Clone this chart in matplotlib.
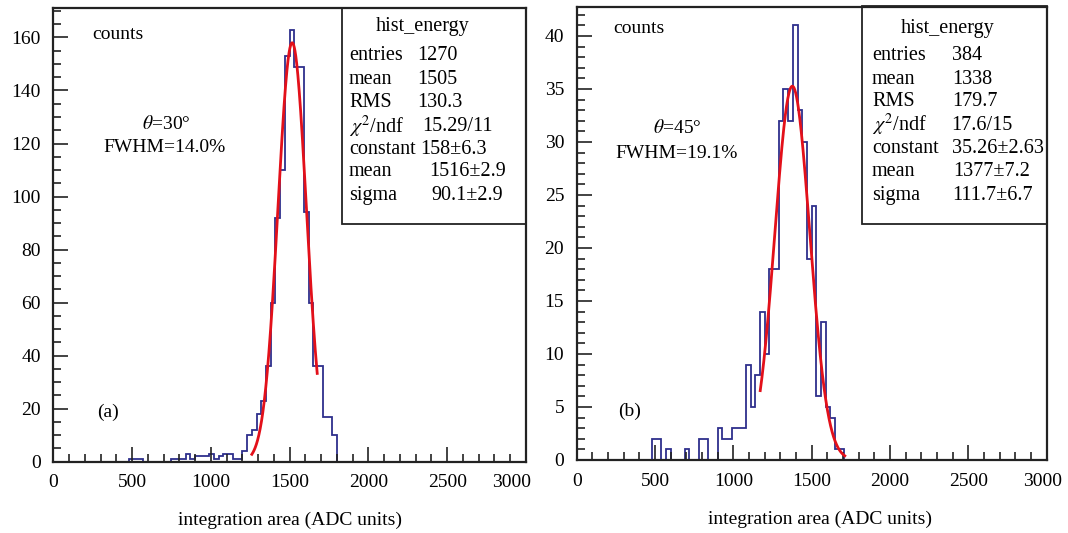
import numpy as np
import matplotlib
matplotlib.use('Agg')
import matplotlib.pyplot as plt
import matplotlib.transforms as mtransforms
from matplotlib.ticker import MultipleLocator
from matplotlib.patches import Rectangle

plt.rcParams['font.family'] = ['Liberation Serif', 'DejaVu Serif']
plt.rcParams['mathtext.fontset'] = 'stix'

# ---------------- data ----------------
BIN_WIDTH = 30
# panel (a): theta = 30 deg
a_first_edge = 480
a_counts = [1, 1, 1, 0, 0, 0, 0, 0, 0, 1, 1, 1, 3, 1, 2, 2, 2, 3, 1, 2, 3, 3, 1, 1,
            4, 10, 12, 18, 23, 36, 60, 92, 110, 153, 163, 149, 149, 94, 60, 36, 36, 17, 17, 10]
a_fit = dict(constant=158.0, mean=1516.0, sigma=90.1, lo=1260, hi=1675)
a_stats_labels = ['entries', 'mean', 'RMS', r'$\chi^2$/ndf', 'constant', 'mean', 'sigma']
a_stats_values = ['1270', '1505', '130.3', '15.29/11', '158\u00b16.3', '1516\u00b12.9', '90.1\u00b12.9']
a_angle = r'$\theta$=30°'
a_fwhm = 'FWHM=14.0%'
a_tag = '(a)'

# panel (b): theta = 45 deg
b_first_edge = 480
b_counts = [2, 2, 0, 1, 0, 0, 0, 1, 0, 0, 2, 2, 0, 0, 3, 2, 2, 3, 3, 3,
            9, 5, 8, 14, 10, 18, 18, 32, 35, 32, 41, 33, 30, 19, 24, 6, 13, 5, 4, 1, 1]
b_fit = dict(constant=35.26, mean=1377.0, sigma=111.7, lo=1172, hi=1712)
b_stats_labels = ['entries', 'mean', 'RMS', r'$\chi^2$/ndf', 'constant', 'mean', 'sigma']
b_stats_values = ['384', '1338', '179.7', '17.6/15', '35.26\u00b12.63', '1377\u00b17.2', '111.7\u00b16.7']
b_angle = r'$\theta$=45°'
b_fwhm = 'FWHM=19.1%'
b_tag = '(b)'

x_ticks = [0, 500, 1000, 1500, 2000, 2500, 3000]
x_label = 'integration area (ADC units)'

# ---------------- layout ----------------
W, H = 1068, 533
fig = plt.figure(figsize=(W / 100, H / 100), dpi=100)


def fx(x):
    return x / W


def fy(y):
    return 1 - y / H


HIST_COLOR = '#2e2f8c'
FIT_COLOR = '#e3101a'
FRAME_COLOR = '#222222'
FS = 14
FS_STATS = 14.5


def make_panel(rect, counts, first_edge, fit, ymax, ymajor, yminor,
               labels, values, val_x, lab_x, row_y, title_xy, box, counts_xy,
               angle_xy, fwhm_xy, tag_xy, angle, fwhm, tag, xlabel_xy, last_shift):
    ax = fig.add_axes(rect)
    edges = first_edge + BIN_WIDTH * np.arange(len(counts) + 1)
    ax.stairs(counts, edges, color=HIST_COLOR, lw=1.3, baseline=0)
    xf = np.linspace(fit['lo'], fit['hi'], 400)
    yf = fit['constant'] * np.exp(-0.5 * ((xf - fit['mean']) / fit['sigma']) ** 2)
    ax.plot(xf, yf, color=FIT_COLOR, lw=2.0)
    ax.set_xlim(0, 3000)
    ax.set_ylim(0, ymax)
    ax.set_xticks(x_ticks)
    ax.set_xticklabels([str(t) for t in x_ticks])
    ax.xaxis.set_minor_locator(MultipleLocator(100))
    ax.yaxis.set_major_locator(MultipleLocator(ymajor))
    ax.yaxis.set_minor_locator(MultipleLocator(yminor))
    ax.tick_params(which='both', direction='in', top=False, right=False,
                   color=FRAME_COLOR, labelsize=FS, width=1.2)
    ax.tick_params(which='major', length=10.5)
    ax.tick_params(which='minor', length=6)
    ax.tick_params(axis='y', pad=9)
    ax.tick_params(axis='x', pad=9)
    for s in ax.spines.values():
        s.set_color(FRAME_COLOR)
        s.set_linewidth(1.6)
    last = ax.get_xticklabels()[-1]
    last.set_transform(last.get_transform() +
                       mtransforms.ScaledTranslation(-last_shift / 100, 0, fig.dpi_scale_trans))
    # stats box
    x0, y0, x1, y1 = box
    fig.patches.append(Rectangle((fx(x0), fy(y1)), fx(x1) - fx(x0), fy(y0) - fy(y1),
                                 transform=fig.transFigure, fill=False,
                                 edgecolor=FRAME_COLOR, lw=1.3))
    fig.text(fx(title_xy[0]), fy(title_xy[1]), 'hist_energy', ha='center', va='center', fontsize=FS_STATS)
    for lab, val, vx, ry in zip(labels, values, val_x, row_y):
        fig.text(fx(lab_x), fy(ry), lab, ha='left', va='center', fontsize=FS_STATS)
        fig.text(fx(vx), fy(ry), val, ha='left', va='center', fontsize=FS_STATS)
    fig.text(fx(counts_xy[0]), fy(counts_xy[1]), 'counts', ha='left', va='center', fontsize=FS)
    fig.text(fx(angle_xy[0]), fy(angle_xy[1]), angle, ha='center', va='center', fontsize=FS)
    fig.text(fx(fwhm_xy[0]), fy(fwhm_xy[1]), fwhm, ha='center', va='center', fontsize=FS)
    fig.text(fx(tag_xy[0]), fy(tag_xy[1]), tag, ha='center', va='center', fontsize=FS)
    fig.text(fx(xlabel_xy[0]), fy(xlabel_xy[1]), x_label, ha='center', va='center', fontsize=FS)
    return ax


row_a = [56, 80, 102.7, 126.7, 149.3, 171.7, 196]
row_b = [55.7, 79.3, 101.7, 125, 148.3, 171.7, 196]

ax_a = make_panel([fx(53.3), fy(461.7), fx(526) - fx(53.3), fy(8.3) - fy(461.7)],
                  a_counts, a_first_edge, a_fit, 171, 20, 5,
                  a_stats_labels, a_stats_values,
                  [417, 417, 417, 422, 420, 429, 431], 349, row_a,
                  (423, 26), (341.7, 8.3, 526, 224), (92, 34.3),
                  (166, 124), (165, 147.3), (108, 412), a_angle, a_fwhm, a_tag, (290, 520), 14)

ax_b = make_panel([fx(576.7), fy(460), fx(1046.5) - fx(576.7), fy(7.3) - fy(460)],
                  b_counts, b_first_edge, b_fit, 42.7, 5, 1,
                  b_stats_labels, b_stats_values,
                  [952, 952, 952, 951, 952, 953, 952], 872, row_b,
                  (948, 28.3), (861.7, 6, 1046.5, 224), (613, 28.3),
                  (677, 128.3), (677, 154), (630, 411), b_angle, b_fwhm, b_tag, (820, 519), 4)

fig.savefig('out.png', dpi=100)
